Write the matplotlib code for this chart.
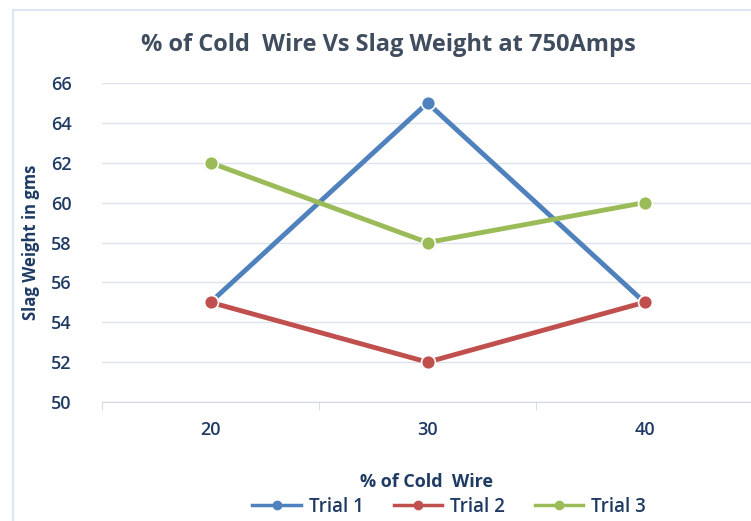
import numpy as np
import matplotlib.pyplot as plt
from matplotlib.lines import Line2D

categorias = ['20', '30', '40']
trial1 = [55, 65, 55]
trial2 = [55, 52, 55]
trial3 = [62, 58, 60]
series = ['Trial 1', 'Trial 2', 'Trial 3']
colores = ['#4F81BD', '#C0504D', '#9BBB59']
y_ticks = [50, 52, 54, 56, 58, 60, 62, 64, 66]

plt.rcParams['font.family'] = ['Open Sans', 'DejaVu Sans']
texto = '#1F3B63'

fig = plt.figure(figsize=(7.51, 5.21), dpi=100)
# borde del area del grafico
fig.add_artist(Line2D([13 / 751, 13 / 751], [0, 1 - 10 / 521], color='#DCE6F2', lw=1.5))
fig.add_artist(Line2D([13 / 751, 1], [1 - 10 / 521, 1 - 10 / 521], color='#DCE6F2', lw=1.5))

ax = fig.add_axes([102 / 751, 1 - 402 / 521, 1 - 102 / 751, (402 - 83) / 521])
x = np.arange(len(categorias))

for datos, nombre, c in zip([trial1, trial2, trial3], series, colores):
    ax.plot(x, datos, color=c, lw=3.5, marker='o', markersize=10,
            markeredgecolor='white', markeredgewidth=1.2, label=nombre, zorder=3)

ax.set_ylim(50, 66)
ax.set_yticks(y_ticks)
ax.set_xlim(-0.5, -0.5 + 649 / 217)
ax.set_xticks(x)
ax.set_xticklabels(categorias)
ax.set_xticks([-0.5, 0.5, 1.5], minor=True)
ax.grid(axis='y', color='#DDE3EC', lw=1)
ax.set_axisbelow(True)
for s in ['top', 'right', 'left']:
    ax.spines[s].set_visible(False)
ax.spines['bottom'].set_color('#D0D7E2')
ax.tick_params(axis='y', length=0, labelsize=13, labelcolor=texto, pad=22)
ax.tick_params(axis='x', which='major', length=0, labelsize=13, labelcolor=texto, pad=14)
ax.tick_params(axis='x', which='minor', length=6, color='#D0D7E2')
for lbl in ax.get_xticklabels() + ax.get_yticklabels():
    lbl.set_fontweight('semibold')

ax.set_ylabel('Slag Weight in gms', fontsize=12, fontweight='bold', color=texto, labelpad=8)
ax.set_xlabel('% of Cold  Wire', fontsize=13, fontweight='bold', color=texto, labelpad=24)
fig.text(388 / 751, 1 - 45 / 521, '% of Cold  Wire Vs Slag Weight at 750Amps',
         ha='center', va='center', fontsize=17, fontweight='bold', color='#3F4D5F')

# marcas de la leyenda mas finas que las lineas del grafico
manejadores = [Line2D([], [], color=c, lw=2.5, marker='o', markersize=6,
                      markeredgecolor=c) for c in colores]
fig.legend(manejadores, series, loc='center', bbox_to_anchor=(449 / 751, 1 - 507 / 521),
           ncol=3, frameon=False, labelcolor=texto, handlelength=2.6, columnspacing=1.6,
           handletextpad=0.4, prop={'size': 13.5, 'weight': 'semibold'})

fig.savefig('out.png', dpi=100)
